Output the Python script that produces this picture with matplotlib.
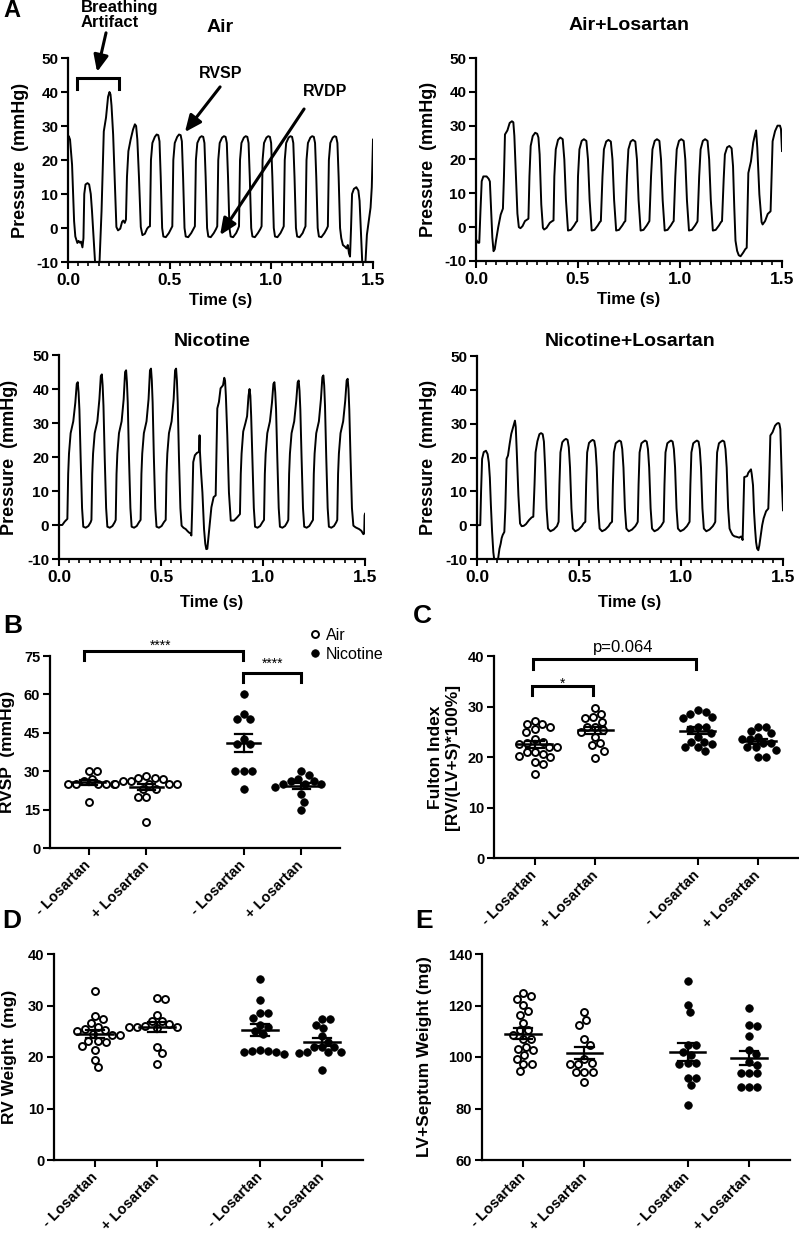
import numpy as np
import matplotlib
matplotlib.use("Agg")
import matplotlib.pyplot as plt
from matplotlib.lines import Line2D
from matplotlib.ticker import MultipleLocator, FormatStrFormatter

plt.rcParams['font.family'] = ['Liberation Sans', 'DejaVu Sans']
plt.rcParams['font.weight'] = 'bold'
plt.rcParams['axes.labelweight'] = 'bold'
plt.rcParams['axes.linewidth'] = 1.5
plt.rcParams['axes.unicode_minus'] = False

# ---------------- data: pressure traces (time s, pressure mmHg)
air_trace = [
    (0.000, 26.5), (0.004, 27.0), (0.010, 26.0), (0.020, 18.6), (0.030, 2.0), (0.036, -2.5),
    (0.046, -4.4), (0.052, -3.8), (0.058, -4.3), (0.064, -4.0), (0.071, -5.7), (0.076, -3.0),
    (0.080, 10.0), (0.086, 12.8), (0.096, 13.2), (0.104, 12.8), (0.112, 10.0), (0.118, 5.0),
    (0.126, -3.0), (0.133, -10.0), (0.140, -13.0), (0.149, -13.0), (0.155, -10.0), (0.165, 5.0),
    (0.176, 28.4), (0.187, 32.5), (0.197, 38.6), (0.204, 40.0), (0.209, 39.3), (0.214, 36.0),
    (0.222, 27.5), (0.231, 12.0), (0.238, 0.3), (0.246, -0.7), (0.257, -0.2), (0.266, 1.8),
    (0.272, 2.2), (0.279, 1.5), (0.285, 2.5), (0.290, 15.0), (0.297, 22.6), (0.308, 26.0),
    (0.320, 29.0), (0.329, 30.5), (0.335, 30.0), (0.341, 26.0), (0.349, 15.0), (0.358, 0.3),
    (0.366, -2.1), (0.378, -1.7), (0.389, -0.2), (0.396, 0.3),
    (0.403, 0.5), (0.408, 20.0), (0.415, 25.0), (0.427, 26.8), (0.436, 27.5), (0.444, 27.3),
    (0.450, 25.5), (0.456, 15.0), (0.463, 0.0), (0.469, -2.5), (0.481, -2.7), (0.496, -1.5), (0.506, -0.3),
    (0.513, 0.5), (0.518, 20.0), (0.525, 25.0), (0.537, 26.8), (0.546, 27.5), (0.554, 27.3),
    (0.560, 25.5), (0.566, 15.0), (0.573, 0.0), (0.579, -2.5), (0.591, -2.7), (0.606, -1.5), (0.617, -0.3),
    (0.624, 0.5), (0.629, 20.0), (0.636, 25.0), (0.648, 26.6), (0.657, 27.0), (0.665, 26.8),
    (0.671, 25.0), (0.677, 15.0), (0.684, 0.0), (0.690, -2.5), (0.702, -2.7), (0.717, -1.5), (0.728, -0.3),
    (0.734, 0.5), (0.739, 20.0), (0.746, 25.0), (0.758, 26.6), (0.767, 27.0), (0.775, 26.8),
    (0.781, 25.0), (0.787, 15.0), (0.794, 0.0), (0.800, -2.5), (0.812, -2.7), (0.827, -1.5), (0.836, -0.3),
    (0.841, 0.5), (0.846, 20.0), (0.853, 25.0), (0.865, 26.6), (0.874, 27.0), (0.882, 26.8),
    (0.888, 25.0), (0.894, 15.0), (0.901, 0.0), (0.907, -2.5), (0.919, -2.7), (0.934, -1.5), (0.946, -0.3),
    (0.952, 0.5), (0.957, 20.0), (0.964, 25.0), (0.976, 26.6), (0.985, 27.0), (0.993, 26.8),
    (0.999, 25.0), (1.005, 15.0), (1.012, 0.0), (1.018, -2.5), (1.030, -2.7), (1.045, -1.5), (1.055, -0.3),
    (1.061, 0.5), (1.066, 20.0), (1.073, 25.0), (1.085, 26.6), (1.094, 27.0), (1.102, 26.8),
    (1.108, 25.0), (1.114, 15.0), (1.121, 0.0), (1.127, -2.5), (1.139, -2.7), (1.154, -1.5), (1.162, -0.3),
    (1.168, 0.5), (1.173, 20.0), (1.180, 25.0), (1.192, 26.6), (1.201, 27.0), (1.209, 26.8),
    (1.215, 25.0), (1.221, 15.0), (1.228, 0.0), (1.234, -2.5), (1.246, -2.7), (1.261, -1.5), (1.272, -0.3),
    (1.278, 0.5), (1.283, 20.0), (1.290, 25.0), (1.302, 26.6), (1.311, 27.0), (1.319, 26.8),
    (1.325, 25.0), (1.331, 15.0), (1.338, 0.0), (1.344, -3.0), (1.352, -5.0), (1.362, -5.5),
    (1.370, -6.0), (1.376, -5.0), (1.382, -7.5), (1.387, -8.4), (1.392, 0.0), (1.397, 10.0),
    (1.406, 11.5), (1.418, 12.0), (1.428, 11.0), (1.434, 8.0), (1.440, 0.0), (1.447, -10.0),
    (1.452, -13.0), (1.458, -13.0), (1.463, -10.0), (1.470, -2.0), (1.480, 2.5), (1.488, 6.0),
    (1.494, 12.0), (1.500, 26.0),
]

air_los_trace = [
    (0.000, -3.6), (0.010, -4.6), (0.016, -4.6), (0.022, 5.0), (0.028, 13.6), (0.036, 15.0),
    (0.052, 15.0), (0.062, 14.3), (0.068, 13.5), (0.073, 6.7), (0.080, -3.0), (0.086, -7.1),
    (0.092, -6.5), (0.098, -4.0), (0.109, 0.0), (0.121, 3.7), (0.132, 5.5), (0.137, 15.0),
    (0.142, 27.4), (0.154, 28.6), (0.165, 30.8), (0.176, 31.3), (0.183, 31.0), (0.188, 27.0),
    (0.195, 16.0), (0.203, 4.0), (0.210, 0.0), (0.218, -0.3), (0.228, 0.3), (0.240, 1.8),
    (0.252, 2.3), (0.257, 2.5), (0.262, 15.0), (0.268, 24.0), (0.278, 26.9), (0.290, 27.9),
    (0.300, 27.6), (0.306, 26.5), (0.312, 21.5), (0.320, 6.7), (0.328, -0.2), (0.334, -0.7),
    (0.346, -0.2), (0.362, 1.3), (0.374, 1.8),
    (0.380, 2.0), (0.384, 15.0), (0.391, 23.0), (0.402, 25.8), (0.413, 26.5), (0.425, 26.0),
    (0.433, 20.0), (0.441, 8.0), (0.451, -1.0), (0.465, -0.8), (0.481, 0.5), (0.491, 1.5), (0.496, 1.8),
    (0.500, 15.0), (0.507, 23.0), (0.518, 25.5), (0.529, 26.0), (0.541, 25.5), (0.549, 20.0),
    (0.557, 8.0), (0.567, -1.0), (0.581, -0.8), (0.597, 0.5), (0.607, 1.5), (0.612, 1.8),
    (0.620, 15.0), (0.627, 23.0), (0.638, 25.3), (0.649, 25.8), (0.661, 25.3), (0.669, 20.0),
    (0.677, 8.0), (0.687, -1.0), (0.701, -0.8), (0.717, 0.5), (0.727, 1.5), (0.732, 1.8),
    (0.740, 15.0), (0.747, 23.0), (0.758, 25.3), (0.769, 25.8), (0.781, 25.3), (0.789, 20.0),
    (0.797, 8.0), (0.807, -1.0), (0.821, -0.8), (0.837, 0.5), (0.847, 1.5), (0.850, 1.8),
    (0.858, 15.0), (0.865, 23.0), (0.876, 25.5), (0.887, 26.0), (0.899, 25.5), (0.907, 20.0),
    (0.915, 8.0), (0.925, -1.0), (0.939, -0.8), (0.955, 0.5), (0.965, 1.5), (0.969, 1.8),
    (0.977, 15.0), (0.984, 23.0), (0.995, 25.5), (1.006, 26.0), (1.018, 25.5), (1.026, 20.0),
    (1.034, 8.0), (1.044, -1.0), (1.058, -0.8), (1.074, 0.5), (1.084, 1.5), (1.086, 1.8),
    (1.094, 15.0), (1.101, 23.0), (1.112, 25.5), (1.123, 26.0), (1.135, 25.5), (1.143, 20.0),
    (1.151, 8.0), (1.161, -1.0), (1.175, -0.8), (1.191, 0.5), (1.201, 1.5), (1.206, 1.8),
    (1.214, 14.0), (1.220, 21.5), (1.231, 23.6), (1.242, 24.0), (1.253, 23.3), (1.260, 18.0),
    (1.266, 6.0), (1.272, -4.0), (1.280, -7.0), (1.288, -8.3), (1.297, -8.6), (1.310, -7.5),
    (1.320, -6.5), (1.327, -6.1), (1.335, 16.0), (1.348, 19.5), (1.359, 25.0), (1.368, 27.5),
    (1.373, 28.6), (1.379, 23.4), (1.389, 9.7), (1.400, 1.5), (1.405, 0.8), (1.417, 1.8),
    (1.430, 3.9), (1.444, 4.7), (1.454, 25.4), (1.466, 28.4), (1.478, 30.0), (1.490, 30.0),
    (1.495, 29.0), (1.500, 22.5),
]

nic_trace = [
    (0.000, 0.0), (0.016, 0.0), (0.028, 1.0), (0.036, 1.5), (0.041, 1.8),
    (0.045, 15.0), (0.049, 21.0), (0.057, 27.0), (0.070, 30.5), (0.080, 36.0), (0.087, 41.5),
    (0.092, 42.0), (0.096, 39.0), (0.100, 34.0), (0.106, 20.0), (0.113, 5.0), (0.119, -0.5),
    (0.131, -0.8), (0.144, -0.3), (0.155, 0.8), (0.159, 1.5),
    (0.163, 15.0), (0.167, 21.0), (0.175, 27.0), (0.188, 30.5), (0.198, 37.0), (0.205, 43.8),
    (0.210, 44.3), (0.214, 41.0), (0.218, 35.0), (0.224, 20.0), (0.231, 5.0), (0.237, -0.5),
    (0.249, -0.8), (0.262, -0.3), (0.273, 0.8), (0.278, 1.5),
    (0.282, 15.0), (0.286, 21.0), (0.294, 27.0), (0.307, 30.5), (0.317, 37.0), (0.324, 45.0),
    (0.329, 45.5), (0.333, 42.0), (0.337, 36.0), (0.343, 20.0), (0.350, 5.0), (0.356, -0.5),
    (0.368, -0.8), (0.381, -0.3), (0.392, 0.8), (0.400, 1.5),
    (0.404, 15.0), (0.408, 21.0), (0.416, 27.0), (0.429, 30.5), (0.439, 37.0), (0.446, 45.5),
    (0.451, 46.0), (0.455, 42.5), (0.459, 36.0), (0.465, 20.0), (0.472, 5.0), (0.478, -0.5),
    (0.490, -0.8), (0.503, -0.3), (0.514, 0.8), (0.523, 1.5),
    (0.527, 15.0), (0.531, 21.0), (0.539, 27.0), (0.552, 30.5), (0.562, 37.0), (0.569, 45.5),
    (0.574, 46.0), (0.578, 42.5), (0.582, 36.0), (0.588, 20.0), (0.595, 5.0), (0.601, -0.2),
    (0.610, -0.8), (0.621, -1.2), (0.630, -1.8), (0.637, -2.2), (0.645, -2.5), (0.649, -3.1),
    (0.653, 5.0), (0.658, 18.5), (0.666, 20.5), (0.676, 21.2), (0.686, 21.5), (0.689, 26.4),
    (0.691, 21.5), (0.697, 15.0), (0.703, 9.6), (0.711, -1.2), (0.717, -5.5), (0.722, -7.1),
    (0.727, -7.0), (0.735, -2.2), (0.747, 5.2), (0.758, 8.2), (0.768, 8.7), (0.773, 25.0),
    (0.776, 34.3), (0.784, 36.2), (0.792, 40.2), (0.804, 41.1), (0.810, 43.3), (0.814, 42.5),
    (0.818, 38.0), (0.825, 26.4), (0.833, 9.6), (0.842, 1.3), (0.858, 1.3), (0.874, 2.3), (0.887, 3.2),
    (0.891, 15.0), (0.895, 21.0), (0.903, 27.5), (0.914, 30.0), (0.922, 32.0), (0.929, 38.0),
    (0.934, 40.0), (0.938, 38.0), (0.942, 32.0), (0.948, 20.0), (0.955, 5.0), (0.961, -0.5),
    (0.973, -0.8), (0.986, -0.3), (0.997, 0.8), (1.005, 1.5),
    (1.009, 15.0), (1.013, 21.0), (1.021, 27.0), (1.034, 30.5), (1.044, 36.0), (1.051, 41.5),
    (1.056, 42.0), (1.060, 39.0), (1.064, 34.0), (1.070, 20.0), (1.077, 5.0), (1.083, -0.5),
    (1.095, -0.8), (1.108, -0.3), (1.119, 0.8), (1.124, 1.5),
    (1.128, 15.0), (1.132, 21.0), (1.140, 27.0), (1.153, 30.5), (1.163, 36.5), (1.170, 42.0),
    (1.175, 42.5), (1.179, 39.5), (1.183, 34.0), (1.189, 20.0), (1.196, 5.0), (1.202, -0.5),
    (1.214, -0.8), (1.227, -0.3), (1.238, 0.8), (1.245, 1.5),
    (1.249, 15.0), (1.253, 21.0), (1.261, 27.0), (1.274, 30.5), (1.284, 37.0), (1.291, 43.5),
    (1.296, 44.0), (1.300, 41.0), (1.304, 35.0), (1.310, 20.0), (1.317, 5.0), (1.323, -0.5),
    (1.335, -0.8), (1.348, -0.3), (1.359, 0.8), (1.364, 1.5),
    (1.368, 15.0), (1.372, 21.0), (1.380, 27.0), (1.393, 30.5), (1.403, 36.5), (1.410, 42.5),
    (1.415, 43.0), (1.419, 40.0), (1.423, 34.0), (1.429, 20.0), (1.436, 5.0), (1.443, -0.2),
    (1.454, -0.7), (1.471, -1.2), (1.482, -1.7), (1.492, -2.7), (1.496, -2.5), (1.498, 2.8),
    (1.500, 3.3),
]

nic_los_trace = [
    (0.000, 0.0), (0.016, 0.0), (0.020, 10.0), (0.025, 19.6), (0.033, 21.6), (0.044, 22.0),
    (0.052, 21.0), (0.058, 18.5), (0.063, 14.0), (0.068, 6.0), (0.074, -2.0), (0.080, -8.0),
    (0.086, -11.0), (0.094, -12.0), (0.101, -11.0), (0.110, -7.0), (0.116, -5.5), (0.121, -3.8),
    (0.126, -2.9), (0.134, -2.0), (0.139, 5.0), (0.145, 19.6), (0.152, 20.6), (0.160, 24.0),
    (0.168, 27.0), (0.178, 29.2), (0.186, 30.9), (0.190, 29.0), (0.195, 21.6), (0.203, 8.8),
    (0.211, 0.5), (0.219, -0.3), (0.229, -0.2), (0.240, 0.3), (0.255, 1.5), (0.268, 2.3), (0.276, 2.5),
    (0.282, 12.0), (0.287, 21.5), (0.296, 24.8), (0.306, 26.9), (0.314, 27.2), (0.322, 26.9),
    (0.328, 24.7), (0.334, 17.0), (0.341, 5.0), (0.348, -1.0), (0.360, -1.8), (0.376, -1.3), (0.392, -0.3),
    (0.400, 1.0), (0.404, 12.0), (0.409, 21.5), (0.418, 24.5), (0.428, 25.2), (0.436, 25.5),
    (0.444, 25.2), (0.450, 23.0), (0.456, 17.0), (0.463, 5.0), (0.470, -1.0), (0.482, -1.8),
    (0.498, -1.3), (0.514, -0.3), (0.522, 0.5),
    (0.531, 1.0), (0.535, 12.0), (0.540, 21.5), (0.549, 24.3), (0.559, 24.9), (0.567, 25.2),
    (0.575, 24.9), (0.581, 22.7), (0.587, 17.0), (0.594, 5.0), (0.601, -1.0), (0.613, -1.8),
    (0.629, -1.3), (0.645, -0.3), (0.653, 0.5),
    (0.662, 1.0), (0.666, 12.0), (0.671, 21.5), (0.680, 24.2), (0.690, 24.7), (0.698, 25.0),
    (0.706, 24.7), (0.712, 22.5), (0.718, 17.0), (0.725, 5.0), (0.732, -1.0), (0.744, -1.8),
    (0.760, -1.3), (0.776, -0.3), (0.784, 0.5),
    (0.788, 1.0), (0.792, 12.0), (0.797, 21.5), (0.806, 24.2), (0.816, 24.7), (0.824, 25.0),
    (0.832, 24.7), (0.838, 22.5), (0.844, 17.0), (0.851, 5.0), (0.858, -1.0), (0.870, -1.8),
    (0.886, -1.3), (0.902, -0.3), (0.910, 0.5),
    (0.915, 1.0), (0.919, 12.0), (0.924, 21.5), (0.933, 24.2), (0.943, 24.7), (0.951, 25.0),
    (0.959, 24.7), (0.965, 22.5), (0.971, 17.0), (0.978, 5.0), (0.985, -1.0), (0.997, -1.8),
    (1.013, -1.3), (1.029, -0.3), (1.037, 0.5),
    (1.042, 1.0), (1.046, 12.0), (1.051, 21.5), (1.060, 24.2), (1.070, 24.7), (1.078, 25.0),
    (1.086, 24.7), (1.092, 22.5), (1.098, 17.0), (1.105, 5.0), (1.112, -1.0), (1.124, -1.8),
    (1.140, -1.3), (1.156, -0.3), (1.164, 0.5),
    (1.168, 1.0), (1.172, 12.0), (1.177, 21.5), (1.186, 24.2), (1.196, 24.7), (1.204, 25.0),
    (1.212, 24.7), (1.218, 22.5), (1.224, 17.0), (1.231, 5.0), (1.238, -1.0), (1.245, -2.0),
    (1.253, -2.9), (1.262, -3.3), (1.270, -3.4), (1.280, -3.6), (1.286, -3.7), (1.292, -3.4),
    (1.297, -3.4), (1.302, -4.4), (1.306, 5.0), (1.310, 14.2), (1.324, 14.5), (1.330, 15.5),
    (1.335, 15.9), (1.343, 16.5), (1.347, 15.0), (1.353, 11.8), (1.358, 4.0), (1.363, -1.0),
    (1.368, -5.0), (1.373, -6.9), (1.379, -7.4), (1.384, -6.0), (1.389, -3.9), (1.398, 0.0),
    (1.405, 2.0), (1.417, 4.1), (1.428, 4.9), (1.433, 15.0), (1.438, 26.5), (1.449, 27.5),
    (1.461, 29.4), (1.470, 30.0), (1.477, 30.2), (1.482, 30.0), (1.487, 28.4), (1.491, 20.0),
    (1.495, 11.8), (1.500, 4.4),
]

trace_titles = ['Air', 'Air+Losartan', 'Nicotine', 'Nicotine+Losartan']

# ---------------- data: group scatter panels
cat_labels = ['- Losartan', '+ Losartan', '- Losartan', '+ Losartan']
group_nicotine = [False, False, True, True]

rvsp = [
    [30, 30, 27, 26, 25, 25, 25, 25, 25, 18],
    [25, 25, 25, 26, 27, 27.5, 27.5, 28, 23, 23, 20, 20, 10, 25, 26],
    [60, 52.5, 50.5, 50.5, 40.5, 42.5, 40.5, 30, 30, 30, 23],
    [28.5, 30, 27, 26, 26, 25, 25, 24, 21, 18, 15, 25],
]
fulton = [
    [26.6, 26.6, 27.2, 26, 25, 25.5, 22.8, 22.5, 22, 22, 21, 21, 20, 20.5, 20.2, 19, 18.7, 16.7, 23, 23.5],
    [28.6, 29.8, 28, 27, 27.8, 25.3, 25, 26, 26, 22.7, 24, 22.3, 21.2, 19.8],
    [29.3, 29, 28, 28.5, 27.8, 26, 26, 25.5, 24.7, 23, 23, 21.2, 22, 22, 24, 22.5],
    [25.2, 26, 26, 24.7, 23.5, 23.5, 24, 22.7, 22.7, 22, 20, 20, 21.4, 22],
]
rv_weight = [
    [32.9, 27.4, 27.9, 26.6, 25.4, 25.3, 25.8, 24.5, 25, 24.3, 24.3, 23.2, 23, 23.2, 21.4, 22.2, 19.5, 18],
    [31.4, 31.2, 28.2, 26.4, 26.9, 26.9, 25.9, 25.8, 25.8, 25.6, 20.7, 22, 18.6, 26],
    [35.2, 31.1, 28.5, 28.5, 27.6, 26.3, 25.9, 24.5, 20.9, 21.1, 21.1, 21.4, 20.6, 20.9, 25],
    [27.4, 27.4, 25.6, 26.3, 24, 23, 21.9, 22, 22, 20.9, 20.7, 21, 21, 17.5],
]
lv_weight = [
    [123.8, 124.8, 122.7, 120.3, 117.7, 116.4, 113.2, 110.3, 110.6, 108.6, 106.9, 107, 103, 104,
     102.8, 99.2, 100.8, 94.4, 97.2, 97.3],
    [117.3, 114.2, 112.5, 106.9, 104.7, 97.3, 99.2, 97.6, 97.3, 94, 94, 94, 90.1],
    [129.6, 120.3, 117.3, 104.7, 104.7, 100.8, 102, 97.6, 97.3, 97.6, 92, 92, 89.2, 81.4],
    [119, 111.9, 112.3, 108, 102.8, 101.2, 97.9, 97, 93.7, 93.7, 93.7, 88.3, 88.3, 88.3],
]

# ---------------- figure
W, H = 799, 1235
fig = plt.figure(figsize=(W / 100, H / 100), dpi=100)


def add_ax(x0, x1, ytop, ybot):
    return fig.add_axes([x0 / W, 1 - ybot / H, (x1 - x0) / W, (ybot - ytop) / H])


def ftext(x, y, s, **kw):
    fig.text(x / W, 1 - y / H, s, **kw)


def style_axes(ax):
    for s in ['top', 'right']:
        ax.spines[s].set_visible(False)
    for s in ['left', 'bottom']:
        ax.spines[s].set_linewidth(1.6)
    ax.tick_params(which='major', direction='out', length=5, width=1.5)


# ---- panel A: traces
traces = [air_trace, air_los_trace, nic_trace, nic_los_trace]
trace_boxes = [(68, 373, 58, 262), (476, 782, 58, 261), (59, 365, 355, 559), (477, 783, 356, 559)]
ylab_x = [-0.128, -0.127, -0.134, -0.131]
xlab_y = [-0.152, -0.152, -0.176, -0.176]
title_xy = [(220, 27), (629, 25), (212, 342), (630, 342)]

trace_axes = []
for i, tr in enumerate(traces):
    ax = add_ax(*trace_boxes[i])
    t = [a for a, b in tr]
    p = [b for a, b in tr]
    ax.plot(t, p, color='black', lw=1.4, solid_joinstyle='round')
    ax.set_xlim(0, 1.5)
    ax.set_ylim(-10, 50)
    ax.xaxis.set_major_locator(MultipleLocator(0.5))
    ax.xaxis.set_minor_locator(MultipleLocator(0.05))
    ax.xaxis.set_major_formatter(FormatStrFormatter('%.1f'))
    ax.set_yticks(range(-10, 51, 10))
    style_axes(ax)
    ax.tick_params(axis='x', which='minor', direction='out', length=3, width=1.2)
    ax.tick_params(axis='x', labelsize=12.5, pad=3)
    ax.tick_params(axis='y', labelsize=11, pad=2)
    ax.set_ylabel('Pressure  (mmHg)', fontsize=13)
    ax.yaxis.set_label_coords(ylab_x[i], 0.5)
    ax.set_xlabel('Time (s)', fontsize=12)
    ax.xaxis.set_label_coords(0.5, xlab_y[i])
    ftext(title_xy[i][0], title_xy[i][1], trace_titles[i], ha='center', va='center', fontsize=14)
    trace_axes.append(ax)

# annotations on the Air trace
ax = trace_axes[0]
ax.plot([0.044, 0.044, 0.251, 0.251], [40.9, 44.1, 44.1, 40.9], color='black', lw=2.2,
        clip_on=False, solid_joinstyle='miter')
arrow = dict(arrowstyle='-|>,head_length=0.5,head_width=0.22', lw=2.2, color='black',
             shrinkA=0, shrinkB=0, mutation_scale=20)
ax.annotate('', xy=(0.143, 45.9), xytext=(0.187, 57.4), arrowprops=arrow, annotation_clip=False)
ax.annotate('', xy=(0.575, 28.2), xytext=(0.748, 41.5), arrowprops=arrow, annotation_clip=False)
ax.annotate('', xy=(0.748, -2.1), xytext=(1.161, 35.0), arrowprops=arrow, annotation_clip=False)
ftext(81, 0, 'Breathing\nArtifact', ha='left', va='top', fontsize=12, linespacing=1.0)
ftext(221, 73, 'RVSP', ha='center', va='center', fontsize=11.5)
ftext(325, 92, 'RVDP', ha='center', va='center', fontsize=11.5)

# ---- panels B-E: scatter with mean +/- SEM
cat_pos = [0, 1, 2.68, 3.68]


def swarm_offsets(vals, ppu_y, d):
    order = np.argsort(vals)[::-1]
    placed = []
    offs = np.zeros(len(vals))
    for i in order:
        y = vals[i] * ppu_y
        cands = [0.0]
        for px, py in placed:
            dy = abs(py - y)
            if dy < d:
                dx = np.sqrt(d * d - dy * dy)
                cands += [px + dx, px - dx]
        cands.sort(key=abs)
        for c in cands:
            if all((c - px) ** 2 + (y - py) ** 2 >= d * d - 1e-6 for px, py in placed):
                offs[i] = c
                break
        placed.append((offs[i], y))
    return offs


def scatter_panel(box, data, ylim, yticks, ylabel, ylabel_x):
    ax = add_ax(*box)
    ax.set_xlim(-0.67, 4.35)
    ax.set_ylim(*ylim)
    style_axes(ax)
    w_px = box[1] - box[0]
    h_px = box[3] - box[2]
    ppu_x = w_px / (4.35 + 0.67)
    ppu_y = h_px / (ylim[1] - ylim[0])
    for k, vals in enumerate(data):
        vals = np.array(vals, dtype=float)
        offs = swarm_offsets(vals, ppu_y, 8.2) / ppu_x
        x = cat_pos[k] + offs
        if group_nicotine[k]:
            ax.plot(x, vals, 'o', ms=5.4, mfc='black', mec='black', mew=0.6, ls='none',
                    zorder=2, clip_on=False)
        else:
            ax.plot(x, vals, 'o', ms=5.0, mfc='white', mec='black', mew=1.4, ls='none',
                    zorder=2, clip_on=False)
        m = vals.mean()
        se = vals.std(ddof=1) / np.sqrt(len(vals))
        c = cat_pos[k]
        ax.plot([c - 0.29, c + 0.29], [m, m], color='black', lw=1.8, zorder=3)
        ax.plot([c, c], [m - se, m + se], color='black', lw=1.6, zorder=3)
        ax.plot([c - 0.15, c + 0.15], [m + se, m + se], color='black', lw=1.6, zorder=3)
        ax.plot([c - 0.15, c + 0.15], [m - se, m - se], color='black', lw=1.6, zorder=3)
    ax.set_yticks(yticks)
    ax.set_xticks(cat_pos)
    ax.set_xticklabels(cat_labels, rotation=45, ha='right', va='center', rotation_mode='anchor',
                       fontsize=10.5)
    ax.tick_params(axis='x', pad=6)
    ax.tick_params(axis='y', labelsize=10.5, pad=2)
    ax.set_ylabel(ylabel, fontsize=12.5)
    ax.yaxis.set_label_coords(ylabel_x, 0.5)
    return ax


def bracket(ax, x1, x2, y, ylow):
    ax.plot([x1, x1, x2, x2], [ylow, y, y, ylow], color='black', lw=2.2, clip_on=False,
            solid_joinstyle='miter')


axB = scatter_panel((50, 340, 656, 848), rvsp, (0, 75), range(0, 76, 15), 'RVSP  (mmHg)', -0.121)
bracket(axB, -0.077, 2.664, 77.07, 73.4)
bracket(axB, 2.664, 3.68, 68.5, 65.0)
axB.text(1.25, 77.4, '****', ha='center', va='baseline', fontsize=10, fontweight='normal', clip_on=False)
axB.text(3.18, 70.3, '****', ha='center', va='baseline', fontsize=10, fontweight='normal', clip_on=False)
leg_handles = [Line2D([], [], marker='o', ls='none', ms=5.0, mfc='white', mec='black', mew=1.4),
               Line2D([], [], marker='o', ls='none', ms=5.4, mfc='black', mec='black', mew=0.6)]
axB.legend(leg_handles, ['Air', 'Nicotine'], loc='upper left', bbox_to_anchor=(309 / W, 1 - 628 / H),
           bbox_transform=fig.transFigure, frameon=False, borderpad=0, handlelength=0.7,
           handletextpad=0.35, labelspacing=0.25, borderaxespad=0,
           prop={'weight': 'normal', 'size': 11.5})

axC = scatter_panel((494, 799, 656, 858), fulton, (0, 40), range(0, 41, 10),
                    'Fulton Index\n[RV/(LV+S)*100%]', -0.111)
bracket(axC, -0.02, 2.65, 39.35, 37.4)
bracket(axC, -0.04, 0.963, 34.06, 32.3)
axC.text(1.457, 40.85, 'p=0.064', ha='center', va='baseline', fontsize=12, fontweight='normal', clip_on=False)
axC.text(0.453, 33.8, '*', ha='center', va='baseline', fontsize=10, fontweight='normal', clip_on=False)

axD = scatter_panel((54, 363, 954, 1160), rv_weight, (0, 40), range(0, 41, 10), 'RV Weight  (mg)', -0.12)
axE = scatter_panel((482, 790, 954, 1160), lv_weight, (60, 140), range(60, 141, 20),
                    'LV+Septum Weight (mg)', -0.162)

# panel letters
for lx, ly, s, fs in [(3, -1, 'A', 17), (3, 614, 'B', 19), (413, 604, 'C', 19),
                      (2, 909, 'D', 19), (415, 909, 'E', 19)]:
    ftext(lx, ly, s, ha='left', va='top', fontsize=fs)

fig.savefig('out.png', dpi=100)
